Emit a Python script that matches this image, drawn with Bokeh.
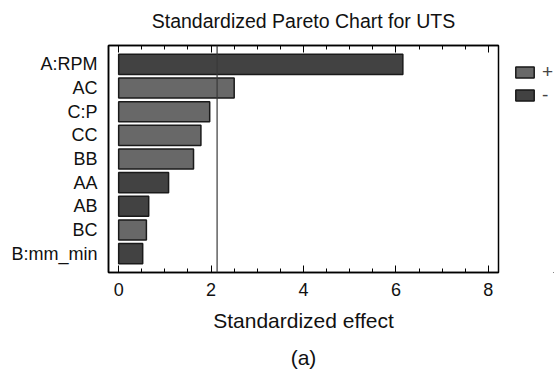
from bokeh.plotting import figure
from bokeh.layouts import row
from bokeh.models import (ColumnDataSource, FactorRange, Range1d, Span, Title, Legend, LegendItem,
                          LinearAxis, SingleIntervalTicker)
from bokeh.transform import dodge
from bokeh.embed import file_html
from bokeh.resources import INLINE

terms = ["A:RPM", "AC", "C:P", "CC", "BB", "AA", "AB", "BC", "B:mm_min"]
effects = [6.15, 2.50, 1.97, 1.78, 1.62, 1.08, 0.65, 0.60, 0.52]
signs = ["-", "+", "+", "+", "+", "-", "-", "+", "-"]
critical_value = 2.13
x_ticks_interval = 2
title_text = "Standardized Pareto Chart for UTS"
x_label = "Standardized effect"
panel_tag = "(a)"

FONT = "Liberation Sans"
COL = {"+": "#686868", "-": "#424242"}

p = figure(width=500, height=378, output_backend="svg", toolbar_location=None,
           y_range=FactorRange(factors=list(reversed(terms)), range_padding=0.3,
                               range_padding_units="absolute"),
           x_range=Range1d(-0.22, 8.22),
           min_border_left=108, min_border_right=2, min_border_top=45, min_border_bottom=106)
p.title.text = ""
p.xgrid.grid_line_color = None
p.ygrid.grid_line_color = None
p.background_fill_color = "white"
p.border_fill_color = "white"
p.outline_line_color = "black"
p.outline_line_width = 1.5

sources = {}
for s in ["+", "-"]:
    idx = [i for i, v in enumerate(signs) if v == s]
    src = ColumnDataSource(dict(term=[terms[i] for i in idx], eff=[effects[i] for i in idx]))
    sources[s] = src
    p.hbar(y="term", right="eff", left=0, height=0.85, source=src,
           fill_color=COL[s], line_color="#1a1a1a", line_width=1.5)

p.add_layout(Span(location=critical_value, dimension="height", line_color="#3a3a3a", line_width=1.2))

xa = p.xaxis[0]
xa.ticker = SingleIntervalTicker(interval=x_ticks_interval, num_minor_ticks=4)
xa.axis_label = x_label
xa.axis_label_text_font = FONT
xa.axis_label_text_font_size = "21px"
xa.axis_label_text_font_style = "normal"
xa.axis_label_text_color = "#111111"
xa.axis_label_standoff = 10
xa.major_label_text_font = FONT
xa.major_label_text_font_size = "18px"
xa.major_label_text_color = "#111111"
xa.major_label_standoff = 10
xa.major_tick_in = 7
xa.major_tick_out = 0
xa.minor_tick_in = 4
xa.minor_tick_out = 0
xa.axis_line_width = 1.5

# top axis: mirrored ticks, carries the chart title as its label
top = LinearAxis(ticker=SingleIntervalTicker(interval=x_ticks_interval, num_minor_ticks=4))
top.major_label_text_color = None
top.major_label_text_font_size = "1px"
top.major_label_standoff = 0
top.major_tick_in = 7
top.major_tick_out = 0
top.minor_tick_in = 4
top.minor_tick_out = 0
top.axis_line_width = 1.5
top.axis_label = title_text
top.axis_label_text_font = FONT
top.axis_label_text_font_size = "19.5px"
top.axis_label_text_font_style = "normal"
top.axis_label_text_color = "#111111"
top.axis_label_standoff = 14
p.add_layout(top, "above")

ya = p.yaxis[0]
ya.major_label_text_font = FONT
ya.major_label_text_font_size = "18px"
ya.major_label_text_color = "#111111"
ya.major_label_standoff = 5
ya.major_tick_line_color = None
ya.axis_line_width = 1.5

p.add_layout(Title(text=panel_tag, text_font=FONT, text_font_size="21px", text_font_style="normal",
                   text_color="#111111", align="center", standoff=18), "below")

# legend panel: same bars, shifted out of its visible ranges so only the legend shows
lg = figure(width=54, height=378, output_backend="svg", toolbar_location=None,
            x_axis_location=None, y_axis_location=None, min_border=0,
            x_range=Range1d(-101, -100), y_range=FactorRange(factors=list(reversed(terms))))
lg.title.text = ""
lg.outline_line_color = None
lg.xgrid.grid_line_color = None
lg.ygrid.grid_line_color = None
items = []
for s in ["+", "-"]:
    r = lg.hbar(y=dodge("term", -30, range=lg.y_range), right="eff", left=0, height=0.85,
                source=sources[s], fill_color=COL[s], line_color="#1a1a1a", line_width=1.5)
    items.append(LegendItem(label=s, renderers=[r]))
legend = Legend(items=items, location=(13, 166), padding=0, margin=0, spacing=1,
                glyph_width=23, glyph_height=14, label_height=20, label_standoff=6,
                label_text_font=FONT, label_text_font_size="19px",
                background_fill_alpha=0, border_line_color=None)
lg.add_layout(legend, "center")

layout = row(p, lg, spacing=0)
open("out.html", "w").write(file_html(layout, INLINE))
